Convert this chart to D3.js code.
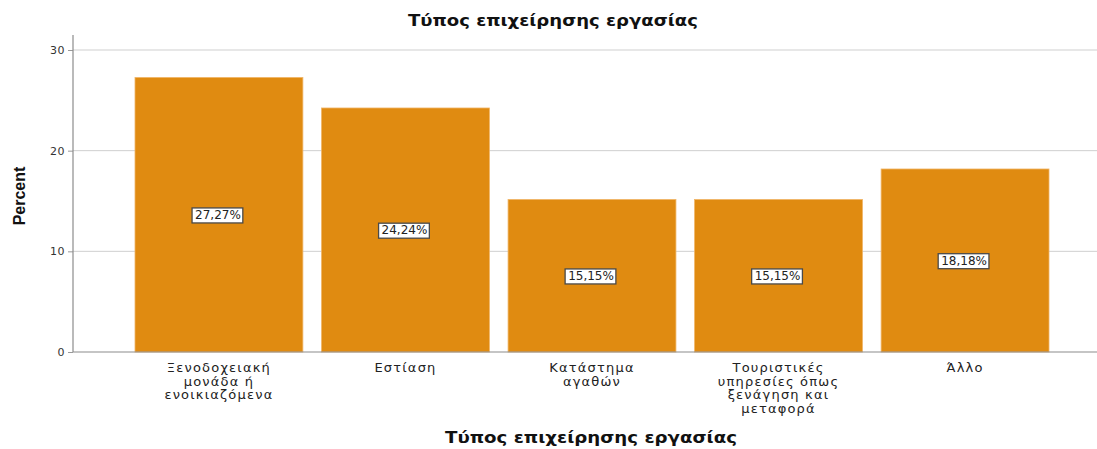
<!DOCTYPE html>
<html>
<head>
<meta charset="utf-8">
<script src="https://cdn.jsdelivr.net/npm/d3@7"></script>
<style>
  body { margin: 0; background: #fff; }
  text { font-family: "DejaVu Sans", Verdana, sans-serif; }
</style>
</head>
<body>
<div id="chart"></div>
<script>
const w = 1097;
const h = 449;

// data
const categories = [
    ["Ξενοδοχειακή", "μονάδα ή", "ενοικιαζόμενα"],
    ["Εστίαση"],
    ["Κατάστημα", "αγαθών"],
    ["Τουριστικές", "υπηρεσίες όπως", "ξενάγηση και", "μεταφορά"],
    ["Άλλο"]
];
const percents = [27.27, 24.24, 15.15, 15.15, 18.18];
const yTicks = [0, 10, 20, 30];

const title = "Τύπος επιχείρησης εργασίας";

const plot = { left: 73, right: 1097, top: 35, bottom: 352 };

const svg = d3.select("#chart")
    .append("svg")
    .attr("width", w)
    .attr("height", h);

const x = d3.scaleBand()
    .domain(d3.range(categories.length))
    .range([135, 1049])
    .paddingInner(0.1)
    .paddingOuter(0);

const y = d3.scaleLinear()
    .domain([0, 30])
    .range([plot.bottom, 50]);

// gridlines
svg.selectAll(".grid")
    .data(yTicks.filter(d => d > 0))
    .enter()
    .append("line")
    .attr("x1", plot.left)
    .attr("x2", plot.right)
    .attr("y1", d => y(d))
    .attr("y2", d => y(d))
    .attr("stroke", "#cfcfcf")
    .attr("stroke-width", 1);

// bars
svg.selectAll(".bar")
    .data(percents)
    .enter()
    .append("rect")
    .attr("class", "bar")
    .attr("x", (d, i) => x(i))
    .attr("y", d => y(d))
    .attr("width", x.bandwidth())
    .attr("height", d => y(0) - y(d))
    .attr("fill", "#e08b11")
    .attr("stroke", "#f0b566")
    .attr("stroke-width", 0.8);

// y axis
const yAxis = d3.axisLeft(y)
    .tickValues(yTicks)
    .tickSize(5)
    .tickFormat(d3.format("d"));

const gy = svg.append("g")
    .attr("transform", "translate(" + plot.left + ",0)")
    .call(yAxis);
gy.select(".domain").remove();
gy.selectAll(".tick line").attr("stroke", "#999");
gy.selectAll(".tick text")
    .attr("fill", "#333")
    .style("font-family", "'DejaVu Sans', sans-serif")
    .style("font-size", "11px")
    .style("letter-spacing", "0.5px")
    .attr("x", -8);

svg.append("line")
    .attr("x1", plot.left).attr("x2", plot.left)
    .attr("y1", plot.top).attr("y2", plot.bottom)
    .attr("stroke", "#8c8c8c")
    .attr("stroke-width", 1.2);

svg.append("line")
    .attr("x1", plot.left).attr("x2", plot.right)
    .attr("y1", plot.bottom).attr("y2", plot.bottom)
    .attr("stroke", "#8c8c8c")
    .attr("stroke-width", 1.2);

// category labels
const catLabels = svg.selectAll(".cat")
    .data(categories)
    .enter()
    .append("text")
    .attr("class", "cat")
    .attr("text-anchor", "middle")
    .attr("fill", "#222")
    .style("font-size", "13px")
    .style("letter-spacing", "1.2px");

catLabels.selectAll("tspan")
    .data((d, i) => d.map(line => ({ line: line, i: i })))
    .enter()
    .append("tspan")
    .attr("x", d => x(d.i) + x.bandwidth() / 2)
    .attr("y", (d, j) => 372 + j * 13.5)
    .text(d => d.line);

// value labels
const fmt = v => v.toFixed(2).replace(".", ",") + "%";

const vlab = svg.selectAll(".vlab")
    .data(percents)
    .enter()
    .append("g")
    .attr("class", "vlab")
    .attr("transform", (d, i) => "translate(" + (x(i) + x.bandwidth() / 2 - 1) + "," + ((y(d) + y(0)) / 2) + ")");

vlab.append("text")
    .attr("text-anchor", "middle")
    .attr("dy", "0.35em")
    .attr("fill", "#222")
    .style("font-size", "12px")
    .text(d => fmt(d));

vlab.each(function() {
    const g = d3.select(this);
    const bb = g.select("text").node().getBBox();
    g.insert("rect", "text")
        .attr("x", bb.x - 3)
        .attr("y", bb.y)
        .attr("width", bb.width + 5)
        .attr("height", bb.height + 1)
        .attr("fill", "#fff")
        .attr("stroke", "#4a4a4a")
        .attr("stroke-width", 1.3);
});

// titles
svg.append("text")
    .attr("x", 553)
    .attr("y", 26)
    .attr("text-anchor", "middle")
    .attr("textLength", 290)
    .attr("lengthAdjust", "spacingAndGlyphs")
    .style("font-size", "15px")
    .style("font-weight", "bold")
    .attr("fill", "#111")
    .text(title);

svg.append("text")
    .attr("x", 591)
    .attr("y", 443)
    .attr("text-anchor", "middle")
    .attr("textLength", 292)
    .attr("lengthAdjust", "spacingAndGlyphs")
    .style("font-size", "15px")
    .style("font-weight", "bold")
    .attr("fill", "#111")
    .text(title);

svg.append("text")
    .attr("transform", "translate(25,196) rotate(-90)")
    .attr("text-anchor", "middle")
    .style("font-family", "'Liberation Sans Narrow', 'Arial Narrow', sans-serif")
    .style("font-size", "16px")
    .style("font-weight", "bold")
    .attr("fill", "#111")
    .text("Percent");
</script>
</body>
</html>
